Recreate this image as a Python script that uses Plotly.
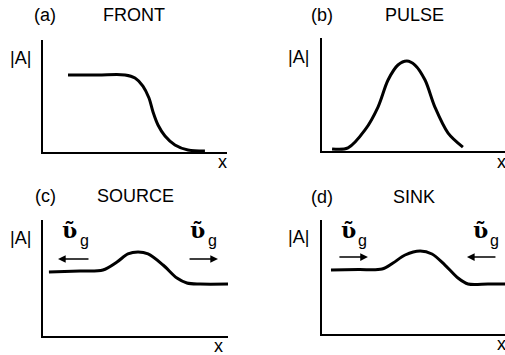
import plotly.graph_objects as go

# ---- data (panel units 0..10) ----
front_x = [1.36, 3.0, 4.46, 5.00, 5.43, 5.76, 5.98, 6.25, 6.63, 7.17, 7.88, 8.80]
front_y = [6.88, 6.88, 6.88, 6.61, 5.89, 4.82, 3.57, 2.41, 1.43, 0.63, 0.18, 0.09]

pulse_x = [0.55, 1.42, 2.35, 3.06, 3.61, 4.15, 4.64, 5.08, 5.63, 6.17, 6.89, 7.70]
pulse_y = [0.18, 0.27, 1.86, 3.89, 6.28, 7.61, 7.96, 7.61, 6.28, 3.89, 1.59, 0.35]

source_x = [0.32, 2.0, 3.24, 4.00, 4.59, 5.14, 5.68, 6.49, 7.24, 7.78, 8.49, 10.0]
source_y = [5.52, 5.60, 5.69, 6.38, 7.07, 7.24, 7.07, 6.12, 5.00, 4.57, 4.48, 4.48]

sink_x = [0.49, 2.0, 3.28, 3.88, 4.54, 5.36, 6.01, 6.72, 7.43, 7.98, 9.07, 10.0]
sink_y = [5.61, 5.65, 5.70, 6.23, 6.93, 7.28, 7.02, 6.05, 4.91, 4.39, 4.39, 4.39]

# group-velocity arrows: (tail_x, head_x, y)
source_arrows = [(2.54, 0.81, 6.64), (7.84, 9.46, 6.64)]
sink_arrows = [(0.87, 2.51, 6.75), (9.56, 7.92, 6.75)]

panel_letters = ["(a)", "(b)", "(c)", "(d)"]
panel_titles = ["FRONT", "PULSE", "SOURCE", "SINK"]

W, H = 505, 355


def px(x):
    return x / W


def py(y):
    return 1 - y / H


fig = go.Figure()

curves = [(front_x, front_y), (pulse_x, pulse_y), (source_x, source_y), (sink_x, sink_y)]
for i, (cx, cy) in enumerate(curves):
    sfx = "" if i == 0 else str(i + 1)
    fig.add_trace(go.Scatter(x=cx, y=cy, mode="lines",
                             line=dict(color="black", width=3, shape="spline", smoothing=0.9),
                             xaxis="x" + sfx, yaxis="y" + sfx, showlegend=False,
                             hoverinfo="skip"))

# domains (pixel positions -> paper)
domains = [
    ((43, 227), (152, 40)),
    ((322, 505), (151, 38)),
    ((43, 228), (336, 220)),
    ((322, 505), (334, 220)),
]

layout = dict(width=W, height=H, margin=dict(l=0, r=0, t=0, b=0),
              paper_bgcolor="white", plot_bgcolor="white", showlegend=False)
for i, ((x0, x1), (yb, yt)) in enumerate(domains):
    sfx = "" if i == 0 else str(i + 1)
    ax = dict(domain=[px(x0), min(px(x1), 1.0)], range=[0, 10], showline=True,
              linecolor="black", linewidth=2, showgrid=False, zeroline=False,
              showticklabels=False, ticks="", anchor="y" + sfx, fixedrange=True)
    ay = dict(domain=[py(yb), py(yt)], range=[0, 10], showline=True,
              linecolor="black", linewidth=2, showgrid=False, zeroline=False,
              showticklabels=False, ticks="", anchor="x" + sfx, fixedrange=True)
    layout["xaxis" + sfx] = ax
    layout["yaxis" + sfx] = ay
fig.update_layout(**layout)

font = dict(family="Liberation Sans, Arial, sans-serif", size=18, color="black")
ann = []


def text(t, x, y, f=font, **kw):
    ann.append(dict(text=t, x=px(x), y=py(y), xref="paper", yref="paper",
                    showarrow=False, xanchor="center", yanchor="middle", font=f, **kw))


letter_pos = [(45, 15), (322, 15), (45, 196), (322, 197)]
title_pos = [(134, 15), (414, 15), (135, 196), (414, 197)]
alab_pos = [(20, 58), (298, 57), (20, 238), (298, 237)]
xlab_pos = [(222, 162), (501, 162), (218, 346), (501, 344)]
for i in range(4):
    text(panel_letters[i], *letter_pos[i])
    text(panel_titles[i], *title_pos[i])
    text("|A|", *alab_pos[i])
    text("x", *xlab_pos[i])

# group velocity symbols: v with tilde, and subscript g as its own text
vfont = dict(family="DejaVu Serif", size=22, color="black")
gfont = dict(family="Liberation Sans, Arial, sans-serif", size=16, color="black")
for vx, gx in [(69, 84), (197, 212), (348, 362), (480, 494)]:
    text("<b>ʋ\u0303</b>", vx, 230, vfont)
    text("g", gx, 240, gfont)

# arrows
for arrows, sfx in [(source_arrows, "3"), (sink_arrows, "4")]:
    for (tx, hx, ay_) in arrows:
        ann.append(dict(x=hx, y=ay_, ax=tx, ay=ay_, xref="x" + sfx, yref="y" + sfx,
                        axref="x" + sfx, ayref="y" + sfx, showarrow=True, text="",
                        arrowhead=2, arrowsize=1.1, arrowwidth=1.4, arrowcolor="black"))

fig.update_layout(annotations=ann)
fig.write_html("out.html")
